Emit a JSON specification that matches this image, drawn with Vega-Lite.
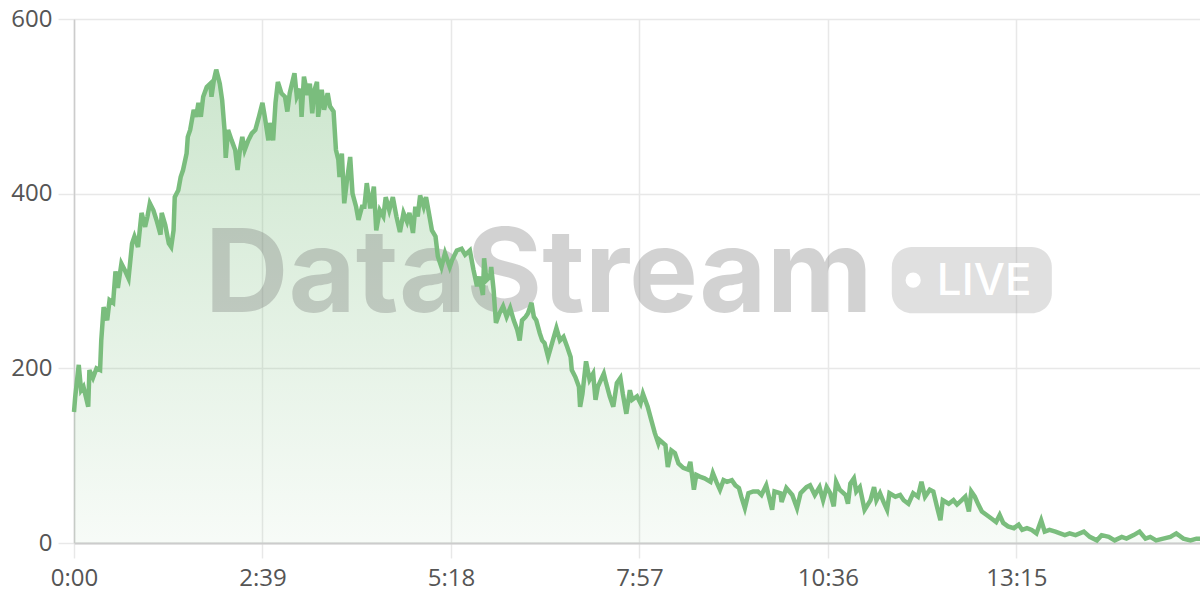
{
  "$schema": "https://vega.github.io/schema/vega-lite/v6.json",
  "width": 1126,
  "height": 524,
  "autosize": "none",
  "padding": {"left": 74, "top": 19, "right": 0, "bottom": 57},
  "background": "white",
  "config": {
    "view": {"stroke": null},
    "font": "Inter",
    "axis": {
      "labelFont": "Open Sans",
      "labelFontSize": 24,
      "labelColor": "#555555",
      "gridColor": "#e8e8e8",
      "gridWidth": 1.5,
      "tickColor": "#e8e8e8",
      "tickWidth": 1.5,
      "domainColor": "#cccccc",
      "title": null
    }
  },
  "datasets": {
    "stream": [
      {"t": 0, "v": 150}, {"t": 1, "v": 167}, {"t": 4, "v": 204}, {"t": 6, "v": 175}, {"t": 8, "v": 179},
      {"t": 12, "v": 156}, {"t": 13, "v": 198}, {"t": 16, "v": 189}, {"t": 19, "v": 200}, {"t": 22, "v": 198},
      {"t": 23, "v": 232}, {"t": 25, "v": 270}, {"t": 28, "v": 255}, {"t": 30, "v": 278}, {"t": 33, "v": 275},
      {"t": 35, "v": 311}, {"t": 37, "v": 292}, {"t": 40, "v": 320}, {"t": 43, "v": 312}, {"t": 46, "v": 303},
      {"t": 49, "v": 343}, {"t": 51, "v": 351}, {"t": 54, "v": 339}, {"t": 57, "v": 378}, {"t": 60, "v": 362},
      {"t": 62, "v": 374}, {"t": 64, "v": 389}, {"t": 67, "v": 381}, {"t": 70, "v": 368}, {"t": 73, "v": 353},
      {"t": 74, "v": 378}, {"t": 77, "v": 364}, {"t": 80, "v": 343}, {"t": 82, "v": 339}, {"t": 84, "v": 358},
      {"t": 85, "v": 396}, {"t": 88, "v": 404}, {"t": 90, "v": 419}, {"t": 92, "v": 427}, {"t": 95, "v": 446},
      {"t": 96, "v": 465}, {"t": 98, "v": 473}, {"t": 101, "v": 496}, {"t": 103, "v": 488}, {"t": 105, "v": 504},
      {"t": 107, "v": 488}, {"t": 109, "v": 511}, {"t": 112, "v": 522}, {"t": 115, "v": 526}, {"t": 116, "v": 511},
      {"t": 118, "v": 530}, {"t": 120, "v": 542}, {"t": 123, "v": 526}, {"t": 125, "v": 507}, {"t": 127, "v": 473},
      {"t": 128, "v": 441}, {"t": 130, "v": 473}, {"t": 133, "v": 461}, {"t": 136, "v": 450}, {"t": 138, "v": 427},
      {"t": 140, "v": 450}, {"t": 142, "v": 465}, {"t": 144, "v": 450}, {"t": 147, "v": 461}, {"t": 150, "v": 469},
      {"t": 153, "v": 473}, {"t": 156, "v": 488}, {"t": 159, "v": 504}, {"t": 161, "v": 488}, {"t": 164, "v": 461},
      {"t": 165, "v": 481}, {"t": 168, "v": 461}, {"t": 170, "v": 504}, {"t": 172, "v": 528}, {"t": 175, "v": 515},
      {"t": 178, "v": 511}, {"t": 180, "v": 494}, {"t": 182, "v": 515}, {"t": 186, "v": 538}, {"t": 188, "v": 511},
      {"t": 191, "v": 520}, {"t": 192, "v": 488}, {"t": 194, "v": 534}, {"t": 197, "v": 513}, {"t": 199, "v": 526},
      {"t": 201, "v": 492}, {"t": 203, "v": 519}, {"t": 205, "v": 528}, {"t": 206, "v": 488}, {"t": 209, "v": 519},
      {"t": 211, "v": 496}, {"t": 214, "v": 515}, {"t": 216, "v": 500}, {"t": 219, "v": 494}, {"t": 221, "v": 450},
      {"t": 223, "v": 439}, {"t": 224, "v": 419}, {"t": 226, "v": 446}, {"t": 228, "v": 389}, {"t": 230, "v": 412},
      {"t": 233, "v": 442}, {"t": 235, "v": 400}, {"t": 238, "v": 385}, {"t": 240, "v": 370}, {"t": 243, "v": 385},
      {"t": 245, "v": 385}, {"t": 247, "v": 412}, {"t": 250, "v": 383}, {"t": 253, "v": 408}, {"t": 255, "v": 358},
      {"t": 258, "v": 381}, {"t": 261, "v": 374}, {"t": 263, "v": 396}, {"t": 266, "v": 381}, {"t": 269, "v": 396},
      {"t": 272, "v": 374}, {"t": 275, "v": 356}, {"t": 278, "v": 378}, {"t": 281, "v": 368}, {"t": 283, "v": 378},
      {"t": 286, "v": 355}, {"t": 288, "v": 385}, {"t": 290, "v": 374}, {"t": 292, "v": 398}, {"t": 295, "v": 385},
      {"t": 297, "v": 396}, {"t": 299, "v": 381}, {"t": 302, "v": 358}, {"t": 305, "v": 351}, {"t": 307, "v": 328},
      {"t": 310, "v": 316}, {"t": 313, "v": 332}, {"t": 317, "v": 316}, {"t": 319, "v": 324}, {"t": 323, "v": 335},
      {"t": 327, "v": 337}, {"t": 330, "v": 330}, {"t": 334, "v": 335}, {"t": 337, "v": 313}, {"t": 340, "v": 294},
      {"t": 342, "v": 305}, {"t": 345, "v": 284}, {"t": 346, "v": 326}, {"t": 348, "v": 301}, {"t": 351, "v": 305},
      {"t": 352, "v": 316}, {"t": 354, "v": 290}, {"t": 356, "v": 252}, {"t": 359, "v": 263}, {"t": 362, "v": 271},
      {"t": 365, "v": 259}, {"t": 368, "v": 269}, {"t": 371, "v": 255}, {"t": 374, "v": 244}, {"t": 376, "v": 232},
      {"t": 378, "v": 255}, {"t": 381, "v": 259}, {"t": 383, "v": 263}, {"t": 386, "v": 275}, {"t": 388, "v": 259},
      {"t": 390, "v": 255}, {"t": 393, "v": 240}, {"t": 395, "v": 232}, {"t": 397, "v": 229}, {"t": 400, "v": 213},
      {"t": 404, "v": 232}, {"t": 407, "v": 246}, {"t": 410, "v": 232}, {"t": 413, "v": 236}, {"t": 416, "v": 225},
      {"t": 419, "v": 213}, {"t": 420, "v": 198}, {"t": 423, "v": 190}, {"t": 426, "v": 179}, {"t": 427, "v": 156},
      {"t": 429, "v": 171}, {"t": 432, "v": 208}, {"t": 435, "v": 187}, {"t": 438, "v": 194}, {"t": 440, "v": 164},
      {"t": 442, "v": 179}, {"t": 447, "v": 194}, {"t": 449, "v": 183}, {"t": 452, "v": 168}, {"t": 455, "v": 156},
      {"t": 458, "v": 183}, {"t": 461, "v": 189}, {"t": 463, "v": 171}, {"t": 466, "v": 148}, {"t": 469, "v": 175},
      {"t": 471, "v": 164}, {"t": 475, "v": 168}, {"t": 478, "v": 160}, {"t": 480, "v": 171}, {"t": 484, "v": 156},
      {"t": 487, "v": 141}, {"t": 490, "v": 126}, {"t": 493, "v": 114}, {"t": 494, "v": 118}, {"t": 499, "v": 112},
      {"t": 501, "v": 87}, {"t": 504, "v": 106}, {"t": 507, "v": 103}, {"t": 510, "v": 91}, {"t": 514, "v": 86},
      {"t": 518, "v": 84}, {"t": 520, "v": 93}, {"t": 523, "v": 61}, {"t": 525, "v": 78}, {"t": 528, "v": 76},
      {"t": 532, "v": 74}, {"t": 537, "v": 70}, {"t": 539, "v": 80}, {"t": 542, "v": 70}, {"t": 545, "v": 61},
      {"t": 548, "v": 72}, {"t": 551, "v": 70}, {"t": 555, "v": 72}, {"t": 558, "v": 66}, {"t": 561, "v": 63},
      {"t": 563, "v": 53}, {"t": 566, "v": 40}, {"t": 569, "v": 57}, {"t": 573, "v": 59}, {"t": 577, "v": 59},
      {"t": 580, "v": 55}, {"t": 584, "v": 66}, {"t": 589, "v": 38}, {"t": 591, "v": 59}, {"t": 596, "v": 57},
      {"t": 597, "v": 47}, {"t": 601, "v": 63}, {"t": 606, "v": 55}, {"t": 610, "v": 40}, {"t": 613, "v": 57},
      {"t": 618, "v": 64}, {"t": 621, "v": 66}, {"t": 625, "v": 55}, {"t": 629, "v": 64}, {"t": 632, "v": 49},
      {"t": 635, "v": 64}, {"t": 638, "v": 57}, {"t": 641, "v": 42}, {"t": 643, "v": 70}, {"t": 646, "v": 61},
      {"t": 651, "v": 55}, {"t": 653, "v": 45}, {"t": 655, "v": 68}, {"t": 658, "v": 74}, {"t": 660, "v": 59},
      {"t": 663, "v": 64}, {"t": 667, "v": 38}, {"t": 672, "v": 49}, {"t": 675, "v": 64}, {"t": 677, "v": 49},
      {"t": 680, "v": 57}, {"t": 683, "v": 47}, {"t": 686, "v": 38}, {"t": 688, "v": 57}, {"t": 693, "v": 53},
      {"t": 697, "v": 55}, {"t": 700, "v": 49}, {"t": 704, "v": 45}, {"t": 708, "v": 57}, {"t": 712, "v": 53},
      {"t": 715, "v": 70}, {"t": 718, "v": 53}, {"t": 722, "v": 61}, {"t": 725, "v": 59}, {"t": 728, "v": 42},
      {"t": 731, "v": 26}, {"t": 733, "v": 49}, {"t": 738, "v": 45}, {"t": 742, "v": 49}, {"t": 745, "v": 44},
      {"t": 749, "v": 49}, {"t": 752, "v": 53}, {"t": 755, "v": 36}, {"t": 757, "v": 59}, {"t": 760, "v": 53},
      {"t": 763, "v": 44}, {"t": 766, "v": 36}, {"t": 770, "v": 32}, {"t": 774, "v": 28}, {"t": 778, "v": 24},
      {"t": 781, "v": 32}, {"t": 784, "v": 23}, {"t": 788, "v": 19}, {"t": 793, "v": 17}, {"t": 797, "v": 21},
      {"t": 800, "v": 15}, {"t": 804, "v": 17}, {"t": 808, "v": 15}, {"t": 812, "v": 11}, {"t": 816, "v": 26},
      {"t": 819, "v": 13}, {"t": 823, "v": 15}, {"t": 828, "v": 13}, {"t": 832, "v": 11}, {"t": 836, "v": 9},
      {"t": 840, "v": 11}, {"t": 845, "v": 9}, {"t": 852, "v": 13}, {"t": 857, "v": 7}, {"t": 863, "v": 3},
      {"t": 867, "v": 9}, {"t": 873, "v": 7}, {"t": 878, "v": 3}, {"t": 884, "v": 7}, {"t": 888, "v": 5},
      {"t": 894, "v": 9}, {"t": 899, "v": 13}, {"t": 904, "v": 5}, {"t": 908, "v": 7}, {"t": 913, "v": 3},
      {"t": 919, "v": 5}, {"t": 925, "v": 7}, {"t": 930, "v": 11}, {"t": 936, "v": 5}, {"t": 942, "v": 3},
      {"t": 947, "v": 5}, {"t": 950, "v": 5}
    ],
    "badge": [{"label": "LIVE"}]
  },
  "layer": [
    {
      "data": {"name": "stream"},
      "mark": {
        "type": "area",
        "color": {
          "gradient": "linear",
          "x1": 0, "y1": 1, "x2": 0, "y2": 0,
          "stops": [
            {"offset": 0, "color": "rgba(122,189,125,0.06)"},
            {"offset": 1, "color": "rgba(122,189,125,0.38)"}
          ]
        }
      },
      "encoding": {
        "x": {
          "field": "t",
          "type": "quantitative",
          "scale": {"domain": [0, 950], "nice": false},
          "axis": {
            "values": [0, 159, 318, 477, 636, 795],
            "labelExpr": "floor(datum.value / 60) + ':' + (datum.value % 60 < 10 ? '0' : '') + (datum.value % 60)",
            "labelFlush": false,
            "tickSize": 15,
            "labelPadding": 8,
            "domainWidth": 2,
            "grid": true
          }
        },
        "y": {
          "field": "v",
          "type": "quantitative",
          "scale": {"domain": [0, 600], "nice": false},
          "axis": {
            "values": [0, 200, 400, 600],
            "tickSize": 16,
            "labelPadding": 6,
            "domainWidth": 1.5,
            "grid": true
          }
        }
      }
    },
    {
      "data": {"name": "badge"},
      "mark": {
        "type": "text",
        "text": "DataStream",
        "font": "Inter",
        "fontSize": 116,
        "fontWeight": "bold",
        "align": "center",
        "baseline": "alphabetic",
        "color": "#6e6e6e",
        "opacity": 0.3
      },
      "encoding": {
        "x": {"datum": 392, "type": "quantitative"},
        "y": {"datum": 264, "type": "quantitative"}
      }
    },
    {
      "data": {"name": "badge"},
      "mark": {
        "type": "rect",
        "cornerRadius": 20,
        "color": "#a0a0a0",
        "opacity": 0.32
      },
      "encoding": {
        "x": {"datum": 690, "type": "quantitative"},
        "x2": {"datum": 825},
        "y": {"datum": 339, "type": "quantitative"},
        "y2": {"datum": 263}
      }
    },
    {
      "data": {"name": "badge"},
      "mark": {"type": "point", "shape": "circle", "filled": true, "size": 230, "color": "white", "opacity": 1, "strokeWidth": 0},
      "encoding": {
        "x": {"datum": 708, "type": "quantitative"},
        "y": {"datum": 301, "type": "quantitative"}
      }
    },
    {
      "data": {"name": "badge"},
      "mark": {
        "type": "text",
        "font": "Inter",
        "fontSize": 44,
        "fontWeight": 500,
        "align": "left",
        "baseline": "alphabetic",
        "color": "white"
      },
      "encoding": {
        "text": {"field": "label"},
        "x": {"datum": 728, "type": "quantitative"},
        "y": {"datum": 284, "type": "quantitative"}
      }
    },
    {
      "data": {"name": "stream"},
      "mark": {"type": "line", "color": "#7abd7d", "strokeWidth": 4.5},
      "encoding": {
        "x": {"field": "t", "type": "quantitative"},
        "y": {"field": "v", "type": "quantitative"}
      }
    }
  ]
}
